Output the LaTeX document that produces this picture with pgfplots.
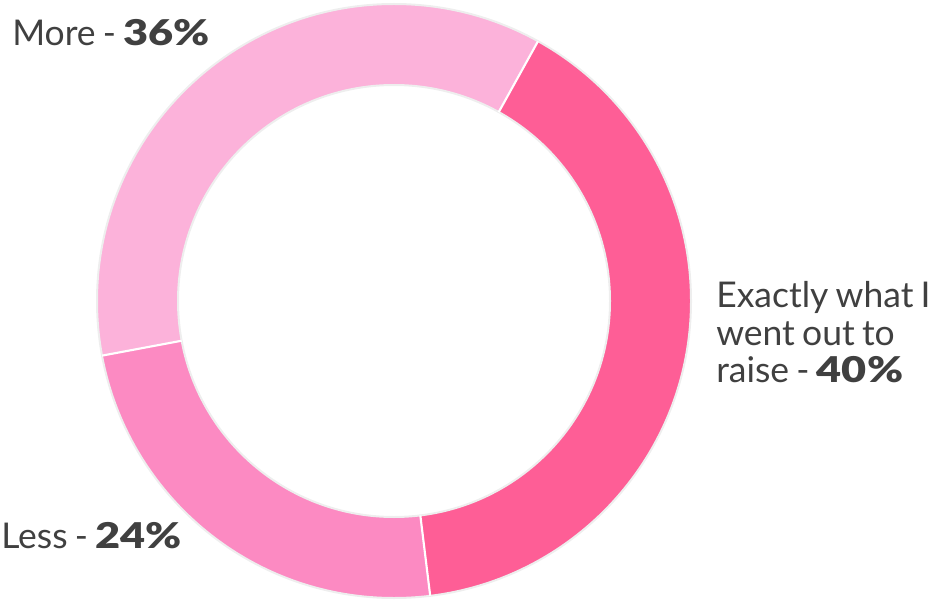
\documentclass[border=0pt]{standalone}
\usepackage{pgfplots}
\pgfplotsset{compat=1.18}
\usepackage{fontspec}
\setmainfont{Lato}[BoldFont={Lato Black}, BoldFeatures={FakeStretch=1.22}, WordSpace=0.8]
\definecolor{exact}{HTML}{FE5E96}
\definecolor{less}{HTML}{FC8AC2}
\definecolor{more}{HTML}{FCB2DA}
\definecolor{ringgray}{HTML}{EEEEEE}
\definecolor{txt}{HTML}{404040}

% donut geometry in pixel units (1 unit = 0.75pt)
\def\cx{394}\def\cy{303}\def\ro{297}\def\ri{216}
% start angle, percent, colour
\newcommand\sector[3]{%
  \pgfmathsetmacro\e{#1-3.6*#2}%
  \fill[#3] (axis cs:{\cx+\ro*cos(#1)},{\cy+\ro*sin(#1)})
    arc[start angle=#1, end angle=\e, radius=\ro*0.75pt]
    -- (axis cs:{\cx+\ri*cos(\e)},{\cy+\ri*sin(\e)})
    arc[start angle=\e, end angle=#1, radius=\ri*0.75pt] -- cycle;
}
\newcommand\divider[1]{%
  \draw[white, line width=1.6pt] (axis cs:{\cx+\ri*cos(#1)},{\cy+\ri*sin(#1)})
    -- (axis cs:{\cx+\ro*cos(#1)},{\cy+\ro*sin(#1)});
}
\tikzset{lbl/.style={anchor=base west, inner sep=0pt, text=txt,
  font=\fontsize{26.6}{30}\selectfont}}

\begin{document}
\begin{tikzpicture}
\begin{axis}[
    x=0.75pt, y=0.75pt,
    xmin=0, xmax=930, ymin=0, ymax=604,
    hide axis, clip=false
  ]
\pgfplotsextra{
  % Exactly 40, Less 24, More 36 -- clockwise from 61 degrees
  \sector{61}{40}{exact}
  \sector{-83}{24}{less}
  \sector{-169.4}{36}{more}
  \draw[ringgray, line width=1.5pt] (axis cs:\cx,\cy) circle[radius=\ro*0.75pt];
  \draw[ringgray, line width=1.5pt] (axis cs:\cx,\cy) circle[radius=\ri*0.75pt];
  \divider{61}
  \divider{-83}
  \divider{-169.4}
}
\node[lbl] at (axis cs:12,558) {More - \textbf{36\%}};
\node[lbl] at (axis cs:716,297) {Exactly what I};
\node[lbl] at (axis cs:716,259) {went out to};
\node[lbl] at (axis cs:716,222) {raise - \textbf{40\%}};
\node[lbl] at (axis cs:1,56) {Less - \textbf{24\%}};
\end{axis}
\pgfresetboundingbox
\path (0,0) rectangle (697.5pt,453pt);
\end{tikzpicture}
\end{document}
